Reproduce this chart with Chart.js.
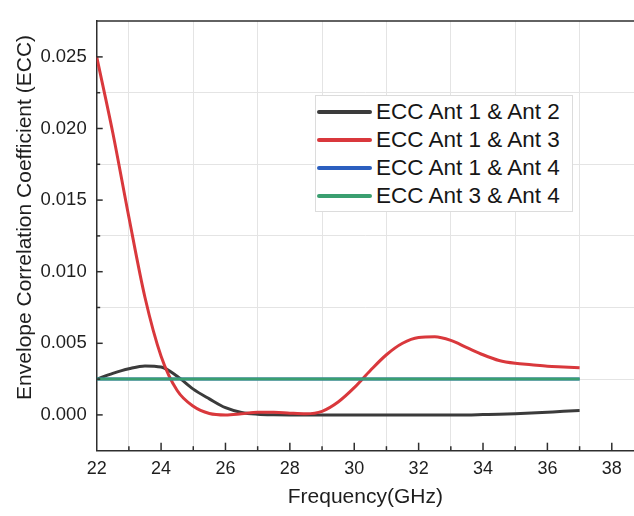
<!DOCTYPE html>
<html><head><meta charset="utf-8">
<script src="https://cdn.jsdelivr.net/npm/chart.js@4"></script>
<style>
html,body{margin:0;padding:0;background:#fff;overflow:hidden;}
#wrap{position:relative;width:634px;height:516px;}
#legend{position:absolute;left:315px;top:95px;width:258px;height:117px;box-sizing:border-box;border:1px solid #dcdcdc;background:#fff;font-family:"Liberation Sans",Arial,sans-serif;font-size:22.5px;color:#161616;padding-top:2px}
.row{display:flex;align-items:center;height:28px;white-space:nowrap}
.sw{width:55px;height:4px;margin-left:1px;margin-right:4px;border-radius:2px}
</style></head>
<body><div id="wrap"><canvas id="c" width="634" height="516"></canvas><div id="legend"></div></div>
<script>
const freq = [22,22.5,23,23.5,24,24.5,25,25.5,26,26.5,27,27.5,28,28.5,29,29.5,30,30.5,31,31.5,32,32.5,33,33.5,34,34.5,35,35.5,36,36.5,37];
const ecc12 = [0.0025,0.0029,0.00322,0.00342,0.00334,0.0027,0.0018,0.00112,0.0005,0.00017,0.00005,0.00001,0,0,0,0,0,0,0,0,0,0,0,0,0.00002,0.00004,0.00008,0.00013,0.00019,0.00025,0.0003];
const ecc13 = [0.025,0.0197,0.0138,0.0082,0.0041,0.0017,0.0006,0.0001,0,0.00008,0.00018,0.00018,0.00012,0.00008,0.00025,0.0009,0.0019,0.0031,0.0042,0.005,0.0054,0.00545,0.0052,0.0047,0.0042,0.0038,0.0036,0.0035,0.0034,0.00335,0.0033];
const ecc14 = [0.0025,0.0025,0.0025,0.0025,0.0025,0.0025,0.0025,0.0025,0.0025,0.0025,0.0025,0.0025,0.0025,0.0025,0.0025,0.0025,0.0025,0.0025,0.0025,0.0025,0.0025,0.0025,0.0025,0.0025,0.0025,0.0025,0.0025,0.0025,0.0025,0.0025,0.0025];
const ecc34 = [0.0025,0.0025,0.0025,0.0025,0.0025,0.0025,0.0025,0.0025,0.0025,0.0025,0.0025,0.0025,0.0025,0.0025,0.0025,0.0025,0.0025,0.0025,0.0025,0.0025,0.0025,0.0025,0.0025,0.0025,0.0025,0.0025,0.0025,0.0025,0.0025,0.0025,0.0025];
const seriesNames = ['ECC Ant 1 & Ant 2','ECC Ant 1 & Ant 3','ECC Ant 1 & Ant 4','ECC Ant 3 & Ant 4'];
const seriesColors = ['#3b3b3b','#d9383c','#2b5fbf','#3a9f70'];
const xAxisTitle = 'Frequency(GHz)';
const yAxisTitle = 'Envelope Correlation Coefficient (ECC)';

const FONT = '"Liberation Sans", Arial, sans-serif';
const seriesData = [ecc12, ecc13, ecc14, ecc34];
const toXY = ys => freq.map((f,i)=>({x:f,y:ys[i]}));

const datasets = seriesData.map((d,i)=>({
  label: seriesNames[i], data: toXY(d), borderColor: seriesColors[i], backgroundColor: seriesColors[i],
  borderWidth: 3, pointRadius: 0, cubicInterpolationMode: 'monotone', order: 4 - i, fill:false
}));

// HTML legend
const lg = document.getElementById('legend');
seriesNames.forEach((n,i)=>{
  const r = document.createElement('div'); r.className='row';
  const s = document.createElement('div'); s.className='sw'; s.style.background = seriesColors[i];
  const t = document.createElement('span'); t.textContent = n;
  r.appendChild(s); r.appendChild(t); lg.appendChild(r);
});

const isMajorX = v => Math.round(v) % 2 === 0;
const isMajorY = v => Math.abs(Math.round(v/0.0025)) % 2 === 0;

const decor = {
  id: 'decor',
  afterDraw(chart){
    const {ctx, chartArea:a, scales:{x, y}} = chart;
    ctx.save();
    ctx.strokeStyle = '#2e2e2e'; ctx.lineWidth = 1.5;
    ctx.beginPath(); ctx.moveTo(a.left, a.top); ctx.lineTo(a.right, a.top); ctx.stroke();
    x.ticks.forEach(t=>{
      if (t.value <= x.min + 1e-9) return;
      const px = x.getPixelForValue(t.value);
      const len = isMajorX(t.value) ? 8 : 4.5;
      ctx.beginPath(); ctx.moveTo(px, a.bottom); ctx.lineTo(px, a.bottom - len); ctx.stroke();
    });
    y.ticks.forEach(t=>{
      if (t.value <= y.min + 1e-9 || t.value >= y.max - 1e-9) return;
      const py = y.getPixelForValue(t.value);
      const len = isMajorY(t.value) ? 6 : 3.5;
      ctx.beginPath(); ctx.moveTo(a.left, py); ctx.lineTo(a.left + len, py); ctx.stroke();
    });
    // y axis title
    ctx.fillStyle = '#1e1e1e';
    ctx.font = '21px ' + FONT;
    ctx.textAlign = 'center'; ctx.textBaseline = 'middle';
    ctx.translate(25, a.top + (a.bottom - a.top) * 0.457);
    ctx.rotate(-Math.PI/2);
    ctx.fillText(yAxisTitle, 0, 0);
    ctx.restore();
  }
};

new Chart(document.getElementById('c'), {
  type: 'line',
  data: { datasets },
  options: {
    responsive: false, animation: false, devicePixelRatio: 1,
    layout: { padding: { top: 10, right: 0, left: 0, bottom: 0 } },
    plugins: { legend: { display: false }, tooltip: { enabled: false } },
    scales: {
      x: {
        type: 'linear', min: 22, max: 38.69,
        afterFit(s){ s.height = 65.3; },
        ticks: { stepSize: 1, includeBounds: false, autoSkip: false, maxRotation: 0, padding: 7.5,
          font: { size: 18, family: FONT }, color: '#1e1e1e',
          callback: v => isMajorX(v) ? String(Math.round(v)) : '' },
        grid: { drawTicks: false, lineWidth: 1,
          color: c => (c.tick && !isMajorX(c.tick.value)) ? '#e4e4e4' : 'rgba(0,0,0,0)' },
        border: { color: '#2e2e2e', width: 1.5 },
        title: { display: true, text: xAxisTitle, font: { size: 21, family: FONT }, color: '#1e1e1e', padding: { top: 0, bottom: 6.4 } }
      },
      y: {
        type: 'linear', min: -0.0025, max: 0.0275,
        afterFit(s){ s.width = 96.7; },
        ticks: { stepSize: 0.0025, includeBounds: false, autoSkip: false, padding: 10,
          font: { size: 18.5, family: FONT }, color: '#1e1e1e',
          callback: v => isMajorY(v) ? (Math.round(v/0.005)*0.005).toFixed(3) : '' },
        grid: { drawTicks: false, lineWidth: 1,
          color: c => (c.tick && !isMajorY(c.tick.value) && c.tick.value > -0.0024 && c.tick.value < 0.0274) ? '#e4e4e4' : 'rgba(0,0,0,0)' },
        border: { color: '#2e2e2e', width: 1.5 }
      }
    }
  },
  plugins: [decor]
});
</script>
</body></html>
